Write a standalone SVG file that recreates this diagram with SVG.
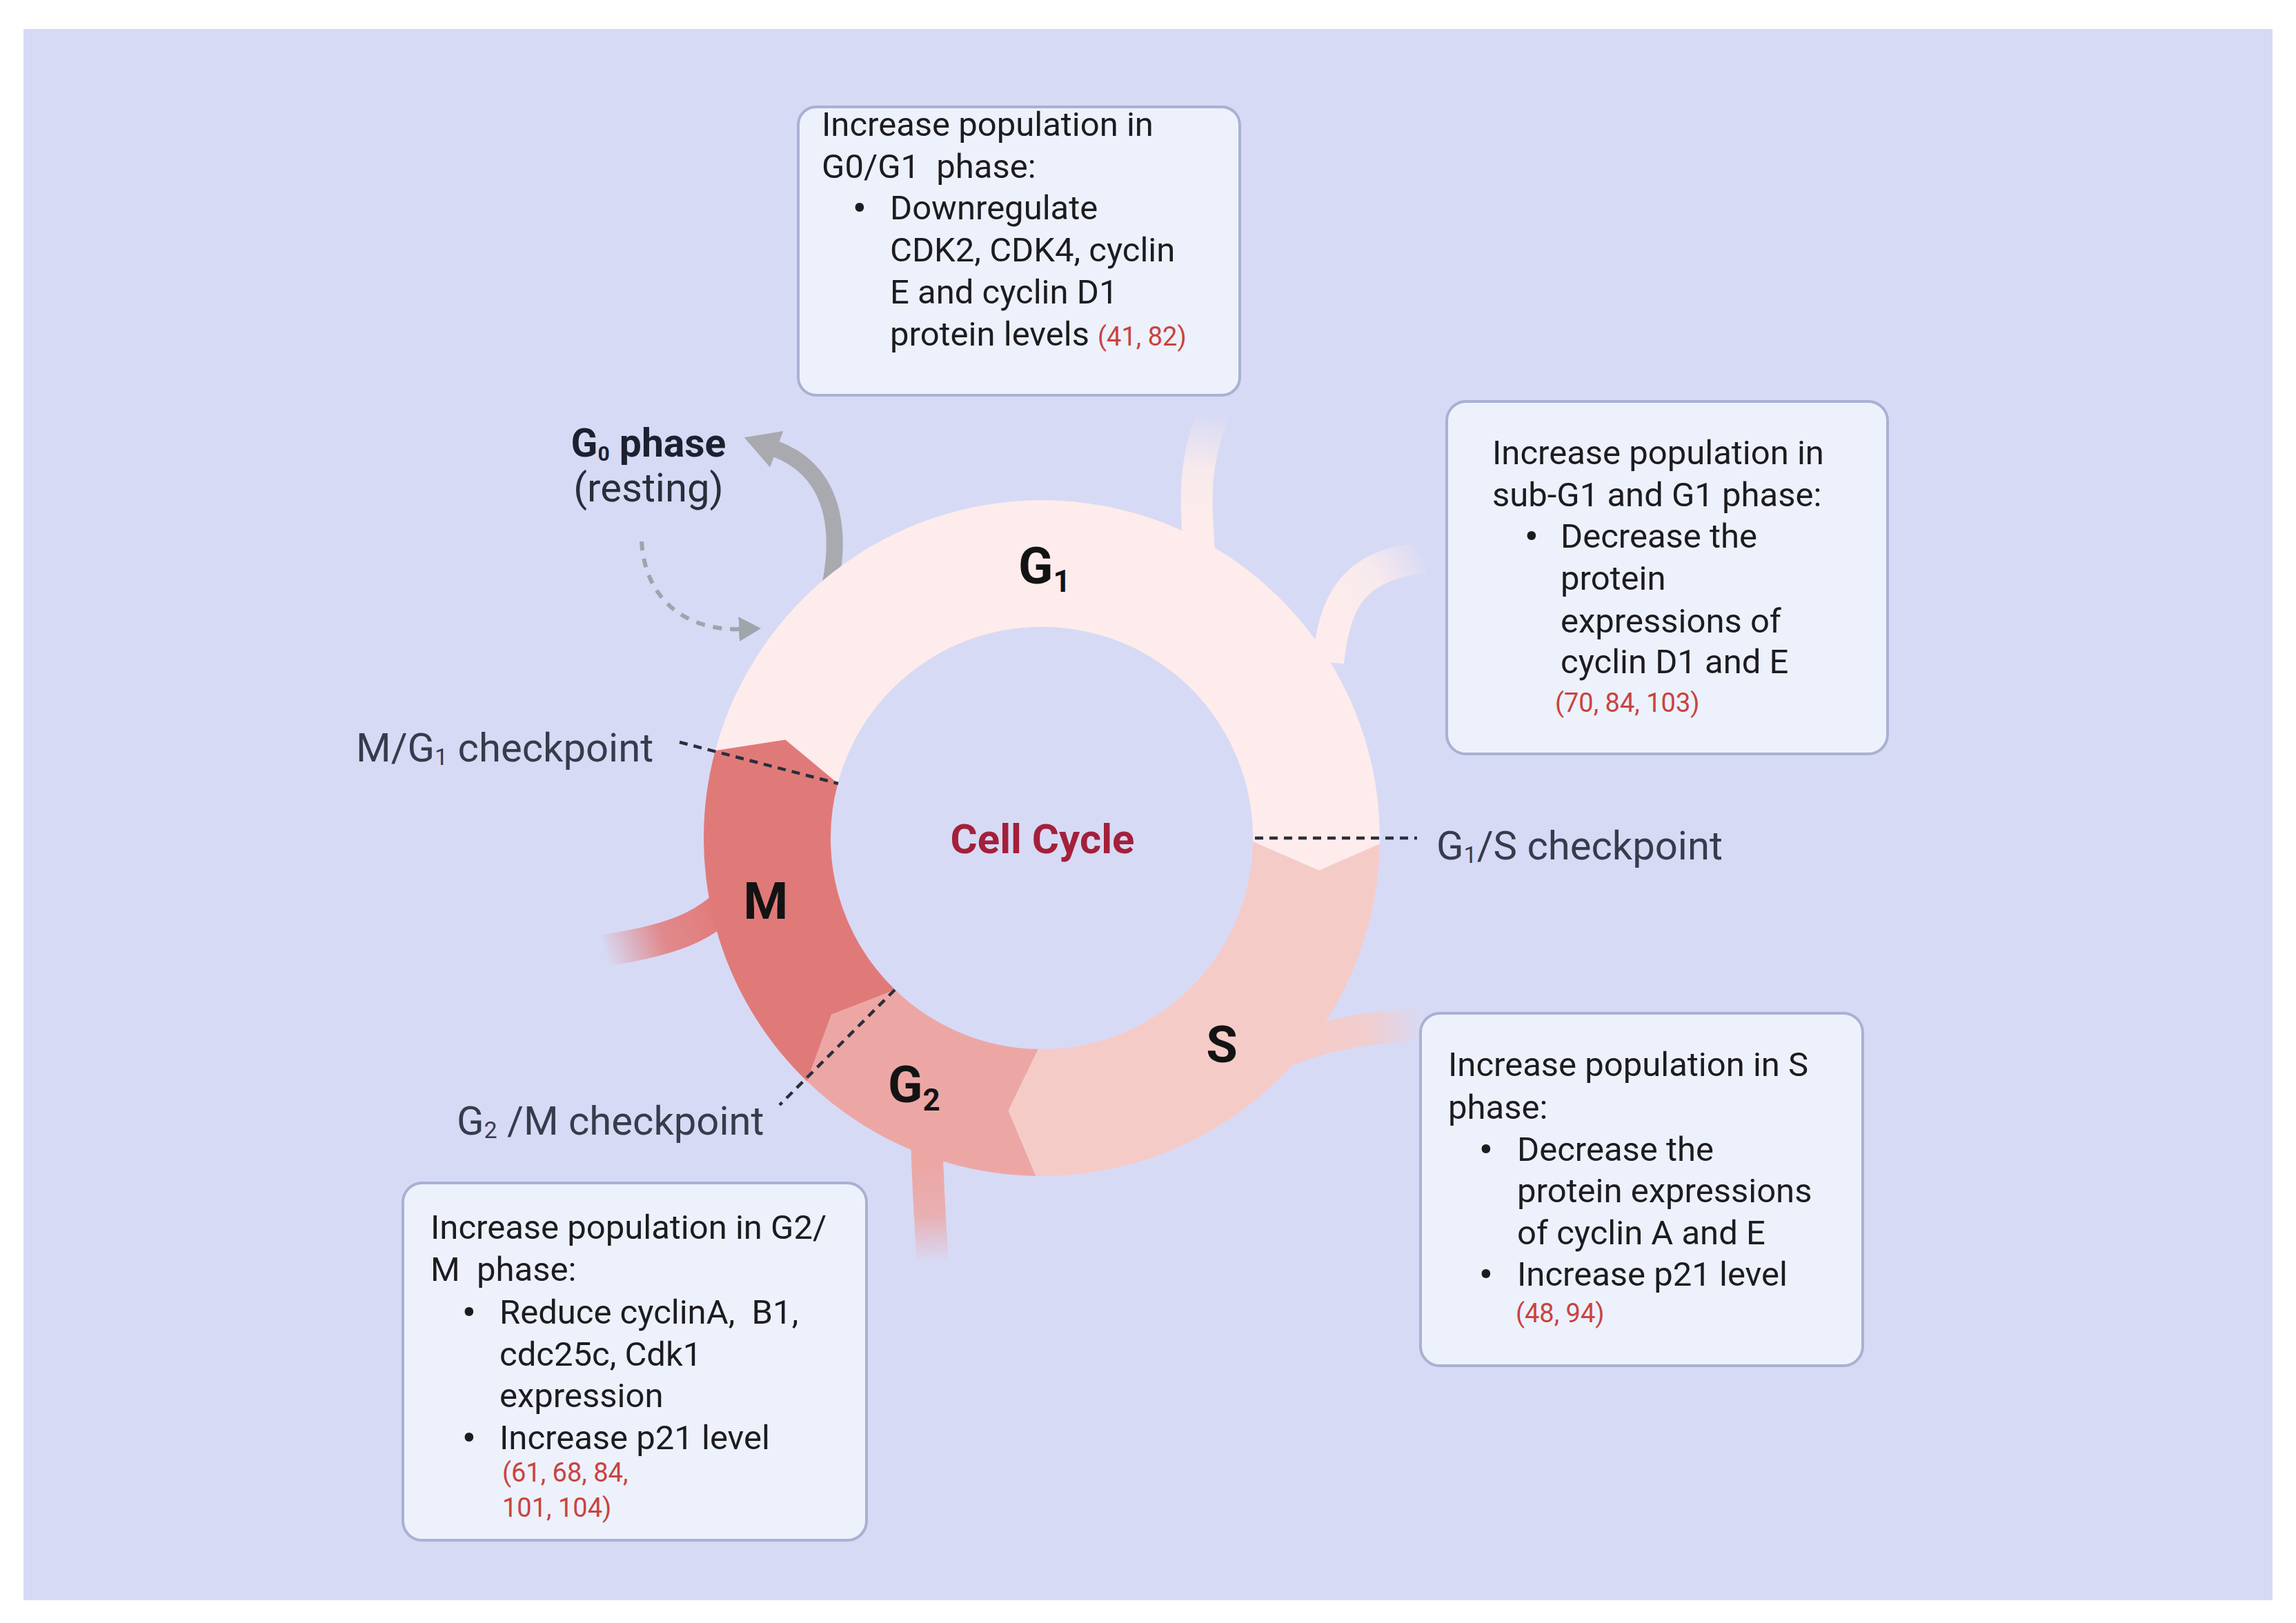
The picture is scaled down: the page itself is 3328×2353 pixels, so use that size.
<svg xmlns="http://www.w3.org/2000/svg" width="3328" height="2353" viewBox="0 0 3328 2353">
<defs>
<style>
text{font-family:Roboto,'Liberation Sans',sans-serif}
.bt{font-size:49px;fill:#1c1c20;white-space:pre}
.bul{font-size:54px;font-weight:bold;fill:#1c1c20}
.ref{font-size:38px;fill:#c8433f}
.cp{font-size:58px;fill:#373c4c;white-space:pre}
.ph{font-size:74px;font-weight:bold;fill:#131313}
.box{fill:#edf1fb;stroke:#a9b1d3;stroke-width:4}
.dash{fill:none;stroke:#2a2e3b;stroke-width:4.5;stroke-dasharray:12 9}
.tail{fill:none;stroke-width:46;stroke-linecap:butt}
</style>
<marker id="headBig" markerUnits="userSpaceOnUse" markerWidth="52" markerHeight="56" refX="4" refY="28" orient="auto">
<path d="M0,0 L50,28 L0,56 Z" fill="#a9aaaf"/>
</marker>
<marker id="headSmall" markerUnits="userSpaceOnUse" markerWidth="34" markerHeight="36" refX="4" refY="18" orient="auto">
<path d="M0,0 L32,18 L0,36 Z" fill="#a0a4ab"/>
</marker>
<linearGradient id="gT1" gradientUnits="userSpaceOnUse" x1="1738" y1="760" x2="1755" y2="600"><stop offset="0" stop-color="#fdeceb"/><stop offset="0.5" stop-color="#fdeceb" stop-opacity="0.85"/><stop offset="1" stop-color="#fdeceb" stop-opacity="0"/></linearGradient>
<linearGradient id="gT2" gradientUnits="userSpaceOnUse" x1="1935" y1="880" x2="2065" y2="805"><stop offset="0" stop-color="#fdeceb"/><stop offset="0.5" stop-color="#fdeceb" stop-opacity="0.85"/><stop offset="1" stop-color="#fdeceb" stop-opacity="0"/></linearGradient>
<linearGradient id="gT3" gradientUnits="userSpaceOnUse" x1="1900" y1="1500" x2="2065" y2="1485"><stop offset="0" stop-color="#f5cbc8"/><stop offset="0.5" stop-color="#f5cbc8" stop-opacity="0.85"/><stop offset="1" stop-color="#f5cbc8" stop-opacity="0"/></linearGradient>
<linearGradient id="gT4" gradientUnits="userSpaceOnUse" x1="1345" y1="1690" x2="1352" y2="1830"><stop offset="0" stop-color="#eca7a5"/><stop offset="0.5" stop-color="#eca7a5" stop-opacity="0.85"/><stop offset="1" stop-color="#eca7a5" stop-opacity="0"/></linearGradient>
<linearGradient id="gT5" gradientUnits="userSpaceOnUse" x1="1040" y1="1320" x2="875" y2="1378"><stop offset="0" stop-color="#e27b7a"/><stop offset="0.5" stop-color="#e27b7a" stop-opacity="0.85"/><stop offset="1" stop-color="#e27b7a" stop-opacity="0"/></linearGradient>
</defs>

<rect width="3328" height="2353" fill="#ffffff"/>
<rect x="34" y="42" width="3260" height="2278" fill="#d7daf5"/>

<g id="tails">
<path class="tail" stroke="url(#gT1)" d="M1738,800 C1733,720 1730,675 1758,600"/>
<path class="tail" stroke="url(#gT2)" d="M1925,960 C1935,870 1960,820 2065,808"/>
<path class="tail" stroke="url(#gT3)" d="M1860,1525 C1930,1497 1990,1488 2065,1486"/>
<path class="tail" stroke="url(#gT4)" d="M1343,1650 C1345,1720 1348,1770 1352,1830"/>
<path class="tail" stroke="url(#gT5)" d="M1075,1285 C1035,1338 985,1362 875,1378"/>
</g>

<g id="connectors">
<path d="M1204,845 C1220,760 1205,680 1122,650" fill="none" stroke="#a9aaaf" stroke-width="24" marker-end="url(#headBig)"/>
<path d="M930,785 C935,870 995,915 1075,912" fill="none" stroke="#a0a4ab" stroke-width="6" stroke-dasharray="13 12" marker-end="url(#headSmall)"/>
</g>

<g id="phase-G1">
<path d="M1036.7,1088.2 A490 490 0 0 1 1999.9,1223.6 L1912,1262 L1816,1220.3 A306 306 0 0 0 1214.4,1135.8 L1138.4,1072.4 Z" fill="#fdeceb"/>
<text class="ph" x="1476" y="846">G<tspan font-size="44" dy="12">1</tspan></text>
</g>
<g id="phase-S">
<path d="M1999.9,1223.6 A490 490 0 0 1 1501.4,1704.9 L1461.5,1610 L1504.7,1521 A306 306 0 0 0 1816,1220.3 L1912,1262 Z" fill="#f5cbc8"/>
<text class="ph" x="1771" y="1540" text-anchor="middle">S</text>
</g>
<g id="phase-G2">
<path d="M1501.4,1704.9 A490 490 0 0 1 1169.6,1567.5 L1205.1,1470.8 L1297.4,1435.1 A306 306 0 0 0 1504.7,1521 L1461.5,1610 Z" fill="#eca7a5"/>
<text class="ph" x="1287" y="1598">G<tspan font-size="44" dy="12">2</tspan></text>
</g>
<g id="phase-M">
<path d="M1169.6,1567.5 A490 490 0 0 1 1036.7,1088.2 L1138.4,1072.4 L1214.4,1135.8 A306 306 0 0 0 1297.4,1435.1 L1205.1,1470.8 Z" fill="#e07a79"/>
<text class="ph" x="1110" y="1332" text-anchor="middle">M</text>
</g>

<g id="checkpoint-lines">
<path class="dash" d="M985,1076 L1215,1136"/>
<path class="dash" d="M1819,1215 L2054,1215"/>
<path class="dash" d="M1297,1435 L1130,1602"/>
</g>

<g id="center-label">
<text x="1511" y="1237" text-anchor="middle" font-size="60" font-weight="bold" fill="#a3203a">Cell Cycle</text>
</g>

<g id="g0-label">
<text x="940" y="662" text-anchor="middle" font-size="57" font-weight="bold" fill="#1d2030">G<tspan font-size="30" dy="6">0</tspan><tspan dy="-6"> phase</tspan></text>
<text x="940" y="727" text-anchor="middle" font-size="58" fill="#2a2e3a">(resting)</text>
</g>

<g id="label-MG1"><text class="cp" x="516" y="1104">M/G<tspan font-size="34" dy="5">1</tspan><tspan dy="-5"> checkpoint</tspan></text></g>
<g id="label-G1S"><text class="cp" x="2082" y="1246">G<tspan font-size="34" dy="5">1</tspan><tspan dy="-5">/S checkpoint</tspan></text></g>
<g id="label-G2M"><text class="cp" x="662" y="1645">G<tspan font-size="34" dy="5">2</tspan><tspan dy="-5"> /M checkpoint</tspan></text></g>

<g id="box-G0G1">
<rect class="box" x="1157" y="155" width="640" height="418" rx="26"/>
<text class="bt" x="1191" y="197">Increase population in</text>
<text class="bt" x="1191" y="258">G0/G1  phase:</text>
<text class="bul" x="1236" y="320">•</text>
<text class="bt" x="1290" y="318">Downregulate</text>
<text class="bt" x="1290" y="379">CDK2, CDK4, cyclin</text>
<text class="bt" x="1290" y="440">E and cyclin D1</text>
<text class="bt" x="1290" y="501">protein levels <tspan class="ref">(41, 82)</tspan></text>
</g>

<g id="box-subG1">
<rect class="box" x="2097" y="582" width="639" height="511" rx="28"/>
<text class="bt" x="2163" y="673">Increase population in</text>
<text class="bt" x="2163" y="734">sub-G1 and G1 phase:</text>
<text class="bul" x="2210" y="796">•</text>
<text class="bt" x="2262" y="794">Decrease the</text>
<text class="bt" x="2262" y="855">protein</text>
<text class="bt" x="2262" y="917">expressions of</text>
<text class="bt" x="2262" y="976">cyclin D1 and E</text>
<text class="ref" x="2254" y="1032">(70, 84, 103)</text>
</g>

<g id="box-S">
<rect class="box" x="2059" y="1469" width="641" height="511" rx="28"/>
<text class="bt" x="2099" y="1560">Increase population in S</text>
<text class="bt" x="2099" y="1622">phase:</text>
<text class="bul" x="2144" y="1685">•</text>
<text class="bt" x="2199" y="1683">Decrease the</text>
<text class="bt" x="2199" y="1743">protein expressions</text>
<text class="bt" x="2199" y="1804">of cyclin A and E</text>
<text class="bul" x="2144" y="1866">•</text>
<text class="bt" x="2199" y="1864">Increase p21 level</text>
<text class="ref" x="2197" y="1917">(48, 94)</text>
</g>

<g id="box-G2M">
<rect class="box" x="584" y="1715" width="672" height="518" rx="28"/>
<text class="bt" x="624" y="1796">Increase population in G2/</text>
<text class="bt" x="624" y="1857">M  phase:</text>
<text class="bul" x="670" y="1921">•</text>
<text class="bt" x="724" y="1919">Reduce cyclinA,  B1,</text>
<text class="bt" x="724" y="1980">cdc25c, Cdk1</text>
<text class="bt" x="724" y="2040">expression</text>
<text class="bul" x="670" y="2103">•</text>
<text class="bt" x="724" y="2101">Increase p21 level</text>
<text class="ref" x="728" y="2148">(61, 68, 84,</text>
<text class="ref" x="728" y="2199">101, 104)</text>
</g>
</svg>
